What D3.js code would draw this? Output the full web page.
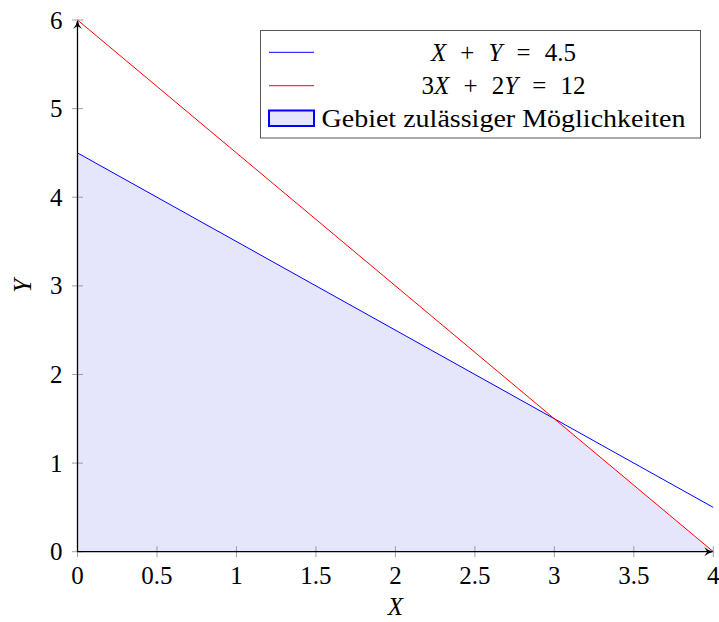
<!DOCTYPE html>
<html><head><meta charset="utf-8">
<script src="https://cdn.jsdelivr.net/npm/d3@7/dist/d3.min.js"></script>
<style>body{margin:0;background:#fff}svg{display:block}text{font-family:"Liberation Serif","DejaVu Serif",serif;fill:#000}</style>
</head><body>
<script>
const xTicks = [0,0.5,1,1.5,2,2.5,3,3.5,4];
const xTickLabels = ["0","0.5","1","1.5","2","2.5","3","3.5","4"];
const yTicks = [0,1,2,3,4,5,6];
const yTickLabels = ["0","1","2","3","4","5","6"];
const blueLine = [[0,4.5],[4,0.5]];
const redLine = [[0,6],[4,0]];
const feasible = [[0,0],[0,4.5],[3,1.5],[4,0]];

const W=719,H=622, FS=25;
const svg=d3.select("body").append("svg").attr("width",W).attr("height",H);
const x=d3.scaleLinear().domain([0,4]).range([77.5,713.3]);
const y=d3.scaleLinear().domain([0,6]).range([551.7,20]);
const line=d3.line().x(d=>x(d[0])).y(d=>y(d[1]));

svg.append("path").datum(feasible).attr("d",line.curve(d3.curveLinearClosed))
  .attr("fill","#e5e5fb").attr("stroke","none");
line.curve(d3.curveLinear);

// ticks
const g=svg.append("g");
g.selectAll(".xt").data(xTicks).join("line").attr("x1",d=>x(d)).attr("x2",d=>x(d))
  .attr("y1",y(0)-5.5).attr("y2",y(0)+5.5).attr("stroke","#888").attr("stroke-width",0.8);
g.selectAll(".yt").data(yTicks).join("line").attr("y1",d=>y(d)).attr("y2",d=>y(d))
  .attr("x1",x(0)-5.5).attr("x2",x(0)+5.5).attr("stroke","#888").attr("stroke-width",0.8);
g.selectAll(".xl").data(xTicks).join("text").attr("x",d=>x(d)).attr("y",y(0)+32)
  .attr("text-anchor","middle").attr("font-size",FS).text((d,i)=>xTickLabels[i]);
g.selectAll(".yl").data(yTicks).join("text").attr("x",x(0)-15).attr("y",d=>y(d)+8.5)
  .attr("text-anchor","end").attr("font-size",FS).text((d,i)=>yTickLabels[i]);

// lines
svg.append("path").datum(blueLine).attr("d",line).attr("fill","none").attr("stroke","#0000ff").attr("stroke-width",1);
svg.append("path").datum(redLine).attr("d",line).attr("fill","none").attr("stroke","#ff0000").attr("stroke-width",1);

// axes
svg.append("line").attr("x1",x(0)).attr("x2",x(0)).attr("y1",y(0)).attr("y2",y(6)+1).attr("stroke","#000").attr("stroke-width",1.3);
svg.append("line").attr("x1",x(0)).attr("x2",x(4)-1).attr("y1",y(0)).attr("y2",y(0)).attr("stroke","#000").attr("stroke-width",1.3);
// arrowheads
const ax=x(0), ay=y(6);
svg.append("path").attr("d",`M${ax},${ay} Q${ax+1},${ay+5} ${ax+4.5},${ay+9} L${ax},${ay+6} L${ax-4.5},${ay+9} Q${ax-1},${ay+5} ${ax},${ay} Z`).attr("fill","#000");
const bx=x(4), by=y(0);
svg.append("path").attr("d",`M${bx},${by} Q${bx-5},${by+1} ${bx-9},${by+4.5} L${bx-6},${by} L${bx-9},${by-4.5} Q${bx-5},${by-1} ${bx},${by} Z`).attr("fill","#000");

// axis labels
svg.append("text").attr("x",(x(0)+x(4))/2).attr("y",615).attr("text-anchor","middle").attr("font-size",FS).attr("font-style","italic").text("X");
svg.append("text").attr("transform",`translate(31,${(y(0)+y(6))/2}) rotate(-90)`).attr("text-anchor","middle").attr("font-size",FS).attr("font-style","italic").text("Y");

// legend
const lg=svg.append("g");
lg.append("rect").attr("x",260.5).attr("y",30.5).attr("width",440).attr("height",107.5).attr("fill","#fff").attr("stroke","#555").attr("stroke-width",1);
const entries=[
  {type:"line",color:"#0000ff",len:145,parts:[["X",1],["+",0],["Y",1],["=",0],["4.5",0]]},
  {type:"line",color:"#ff0000",len:164,parts:[["3",0],["X",1],["+",0],["2",0],["Y",1],["=",0],["12",0]]},
  {type:"area",len:364,parts:[["Gebiet zulässiger Möglichkeiten",0]]}
];
const rowY=[52.3,85.7,118];
entries.forEach((e,i)=>{
  if(e.type==="line"){
    lg.append("line").attr("x1",269).attr("x2",314).attr("y1",rowY[i]).attr("y2",rowY[i]).attr("stroke",e.color).attr("stroke-width",1);
  } else {
    lg.append("rect").attr("x",269).attr("y",110.5).attr("width",45).attr("height",15.5).attr("fill","#e5e5fb").attr("stroke","#0000ff").attr("stroke-width",2);
  }
  const t=lg.append("text").attr("x",503.5).attr("y",rowY[i]+8.5).attr("text-anchor","middle").attr("font-size",FS);
  const spans=e.parts.map(p=>t.append("tspan").attr("font-style",p[1]?"italic":"normal").text(p[0]));
  if(e.type==="area"){
    t.attr("textLength",e.len).attr("lengthAdjust","spacingAndGlyphs");
  } else {
    const nat=t.node().getComputedTextLength();
    // gaps around operators (+, =)
    const gapIdx=[];
    e.parts.forEach((p,k)=>{ if(p[0]==="+"||p[0]==="="){ gapIdx.push(k); gapIdx.push(k+1);} });
    const gap=(e.len-nat)/gapIdx.length;
    gapIdx.forEach(k=>spans[k].attr("dx",gap));
  }
});
</script>
</body></html>
